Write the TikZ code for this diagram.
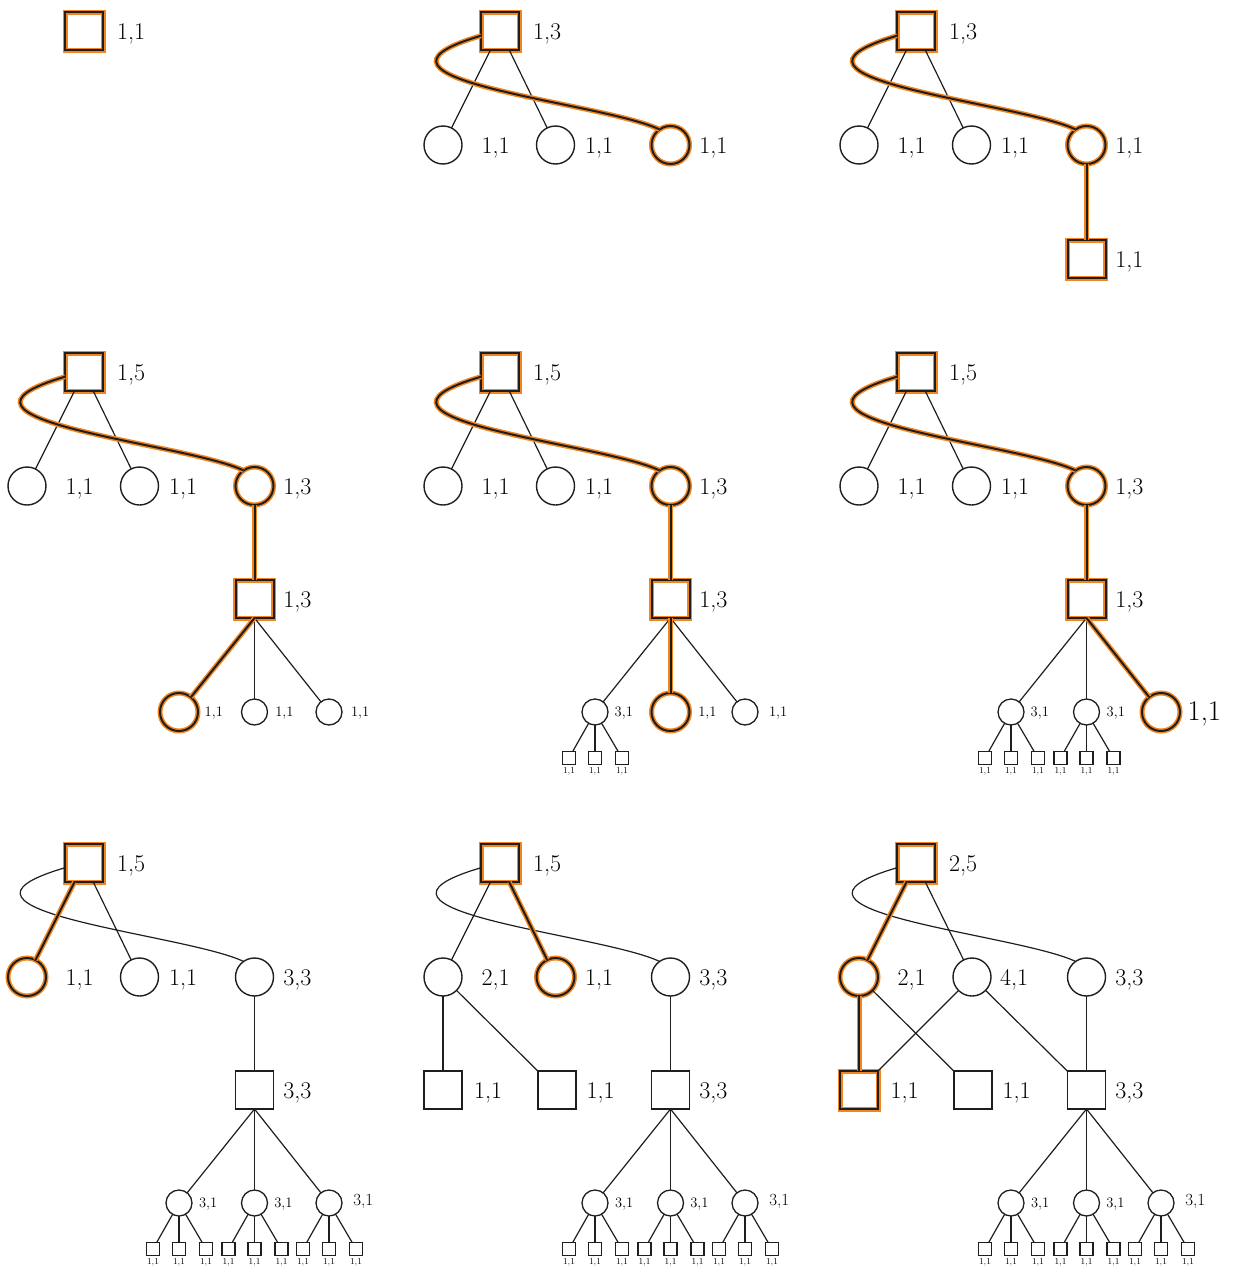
\documentclass[tikz,border=0pt]{standalone}
\usetikzlibrary{calc}
\definecolor{hlorange}{RGB}{242,133,31}
\definecolor{ink}{RGB}{30,30,30}
\tikzset{
  x=1pt, y=-1pt,
  every node/.style={inner sep=0pt, outer sep=0pt},
  edge/.style={draw=ink, line width=1.2pt},
  hledge/.style={draw=ink, line width=2pt, preaction={draw=hlorange, line width=5pt}},
  sq/.style={draw=ink, line width=1.4pt, rectangle, minimum size=38pt},
  circ/.style={draw=ink, line width=1.4pt, circle, minimum size=38pt},
  smallcirc/.style={draw=ink, line width=1.3pt, circle, minimum size=26pt},
  tinysq/.style={draw=ink, line width=1.2pt, rectangle, minimum size=13pt},
  hl/.style={line width=2pt, preaction={draw=hlorange, line width=5pt}},
  lab/.style={anchor=base west, font=\fontsize{24}{28}\selectfont},
  slab/.style={anchor=base west, font=\fontsize{14.5}{17}\selectfont},
  mlab/.style={anchor=base west, font=\fontsize{17}{20}\selectfont},
  blab/.style={anchor=base west, font=\fontsize{28.5}{34}\selectfont},
  tlab/.style={anchor=base, font=\fontsize{9}{10}\selectfont},
}
% three leaf squares hanging below a small circle: #1 = circle name, #2 = x
\newcommand\leafgroup[2]{%
  \foreach \k/\dx in {1/-26,2/0,3/27}{%
    \node[tinysq] (#1t\k) at (#2+\dx,417) {};
    \draw[edge] (#1) -- (#1t\k);
    \node[tlab] (#1l\k) at (#2+\dx,432) {1,1};
  }}
% the long loop from a root square to its third child
\newcommand\loopcurve[3]{\draw[#1] (#2.194) .. controls +(-150,44) and +(-59,-28) .. (#3.125);}
% full lower part: square with three small circles and nine leaves
\newcommand\fullbottom[1]{%
  \foreach \j/\xx in {d/179,e/254.5,f/329}{%
    \node[smallcirc] (#1\j) at (\xx,371) {};
    \draw[edge] (#1s.south) -- (#1\j);
    \leafgroup{#1\j}{\xx}
  }
  \node[slab] (#1dl) at (199,375) {3,1};
  \node[slab] (#1el) at (274.3,375) {3,1};
  \node[mlab] (#1fl) at (353.3,373) {3,1};
}

\begin{document}
\begin{tikzpicture}
\useasboundingbox (0,0) rectangle (1234,1266);

% ---------- row 1 ----------
\begin{scope}
  \node[sq,hl] (p1r) at (84,31) {};
  \node[lab] (p1rl) at (117,39) {1,1};
\end{scope}

\begin{scope}[shift={(416,0)}]
  \node[sq,hl] (p2r) at (84,31) {};
  \node[lab] (p2rl) at (117,39) {1,3};
  \node[circ] (p2a) at (27,145) {};
  \node[circ] (p2b) at (139.5,145) {};
  \node[circ,hl] (p2c) at (254.5,145) {};
  \node[lab] (p2al) at (65.7,153) {1,1};
  \node[lab] (p2bl) at (169,153) {1,1};
  \node[lab] (p2cl) at (283.3,153) {1,1};
  \draw[edge] (p2r) -- (p2a);
  \draw[edge] (p2r) -- (p2b);
  \loopcurve{hledge}{p2r}{p2c}
\end{scope}

\begin{scope}[shift={(832,0)}]
  \node[sq,hl] (p3r) at (84,31) {};
  \node[lab] (p3rl) at (117,39) {1,3};
  \node[circ] (p3a) at (27,145) {};
  \node[circ] (p3b) at (139.5,145) {};
  \node[circ,hl] (p3c) at (254.5,145) {};
  \node[sq,hl] (p3s) at (254.5,259) {};
  \node[lab] (p3al) at (65.7,153) {1,1};
  \node[lab] (p3bl) at (169,153) {1,1};
  \node[lab] (p3cl) at (283.3,153) {1,1};
  \node[lab] (p3sl) at (283.3,267) {1,1};
  \draw[edge] (p3r) -- (p3a);
  \draw[edge] (p3r) -- (p3b);
  \draw[hledge] (p3c) -- (p3s);
  \loopcurve{hledge}{p3r}{p3c}
\end{scope}

% ---------- row 2 ----------
\begin{scope}[shift={(0,341)}]
  \node[sq,hl] (p4r) at (84,31) {};
  \node[lab] (p4rl) at (117,39) {1,5};
  \node[circ] (p4a) at (27,145) {};
  \node[circ] (p4b) at (139.5,145) {};
  \node[circ,hl] (p4c) at (254.5,145) {};
  \node[sq,hl] (p4s) at (254.5,258) {};
  \node[lab] (p4al) at (65.7,153) {1,1};
  \node[lab] (p4bl) at (169,153) {1,1};
  \node[lab] (p4cl) at (283.3,153) {1,3};
  \node[lab] (p4sl) at (283.3,266) {1,3};
  \node[circ,hl] (p4d) at (179,371) {};
  \node[smallcirc] (p4e) at (254.5,371) {};
  \node[smallcirc] (p4f) at (329,371) {};
  \node[slab] (p4dl) at (204.7,375) {1,1};
  \node[slab] (p4el) at (275.3,375) {1,1};
  \node[slab] (p4fl) at (351,375) {1,1};
  \draw[edge] (p4r) -- (p4a);
  \draw[edge] (p4r) -- (p4b);
  \draw[edge] (p4s.south) -- (p4e);
  \draw[edge] (p4s.south) -- (p4f);
  \draw[hledge] (p4c) -- (p4s);
  \draw[hledge] (p4s.south) -- (p4d);
  \loopcurve{hledge}{p4r}{p4c}
\end{scope}

\begin{scope}[shift={(416,341)}]
  \node[sq,hl] (p5r) at (84,31) {};
  \node[lab] (p5rl) at (117,39) {1,5};
  \node[circ] (p5a) at (27,145) {};
  \node[circ] (p5b) at (139.5,145) {};
  \node[circ,hl] (p5c) at (254.5,145) {};
  \node[sq,hl] (p5s) at (254.5,258) {};
  \node[lab] (p5al) at (65.7,153) {1,1};
  \node[lab] (p5bl) at (169,153) {1,1};
  \node[lab] (p5cl) at (283.3,153) {1,3};
  \node[lab] (p5sl) at (283.3,266) {1,3};
  \node[smallcirc] (p5d) at (179,371) {};
  \node[circ,hl] (p5e) at (254.5,371) {};
  \node[smallcirc] (p5f) at (329,371) {};
  \node[slab] (p5dl) at (198.7,375) {3,1};
  \node[slab] (p5el) at (282.3,375) {1,1};
  \node[slab] (p5fl) at (353,375) {1,1};
  \draw[edge] (p5r) -- (p5a);
  \draw[edge] (p5r) -- (p5b);
  \draw[edge] (p5s.south) -- (p5d);
  \draw[edge] (p5s.south) -- (p5f);
  \leafgroup{p5d}{179}
  \draw[hledge] (p5c) -- (p5s);
  \draw[hledge] (p5s.south) -- (p5e);
  \loopcurve{hledge}{p5r}{p5c}
\end{scope}

\begin{scope}[shift={(832,341)}]
  \node[sq,hl] (p6r) at (84,31) {};
  \node[lab] (p6rl) at (117,39) {1,5};
  \node[circ] (p6a) at (27,145) {};
  \node[circ] (p6b) at (139.5,145) {};
  \node[circ,hl] (p6c) at (254.5,145) {};
  \node[sq,hl] (p6s) at (254.5,258) {};
  \node[lab] (p6al) at (65.7,153) {1,1};
  \node[lab] (p6bl) at (169,153) {1,1};
  \node[lab] (p6cl) at (283.3,153) {1,3};
  \node[lab] (p6sl) at (283.3,266) {1,3};
  \node[smallcirc] (p6d) at (179,371) {};
  \node[smallcirc] (p6e) at (254.5,371) {};
  \node[circ,hl] (p6f) at (329,371) {};
  \node[slab] (p6dl) at (198.7,375) {3,1};
  \node[slab] (p6el) at (274.7,375) {3,1};
  \node[blab] (p6fl) at (355.7,379) {1,1};
  \draw[edge] (p6r) -- (p6a);
  \draw[edge] (p6r) -- (p6b);
  \draw[edge] (p6s.south) -- (p6d);
  \draw[edge] (p6s.south) -- (p6e);
  \leafgroup{p6d}{179}
  \leafgroup{p6e}{254.5}
  \draw[hledge] (p6c) -- (p6s);
  \draw[hledge] (p6s.south) -- (p6f);
  \loopcurve{hledge}{p6r}{p6c}
\end{scope}

% ---------- row 3 ----------
\begin{scope}[shift={(0,832)}]
  \node[sq,hl] (p7r) at (84,31) {};
  \node[lab] (p7rl) at (117,39) {1,5};
  \node[circ,hl] (p7a) at (27,145) {};
  \node[circ] (p7b) at (139.5,145) {};
  \node[circ] (p7c) at (254.5,145) {};
  \node[sq] (p7s) at (254.5,258) {};
  \node[lab] (p7al) at (65.7,153) {1,1};
  \node[lab] (p7bl) at (169,153) {1,1};
  \node[lab] (p7cl) at (283.3,153) {3,3};
  \node[lab] (p7sl) at (283.3,266) {3,3};
  \draw[edge] (p7r) -- (p7b);
  \draw[edge] (p7c) -- (p7s);
  \loopcurve{edge}{p7r}{p7c}
  \draw[hledge] (p7r) -- (p7a);
  \fullbottom{p7}
\end{scope}

\begin{scope}[shift={(416,832)}]
  \node[sq,hl] (p8r) at (84,31) {};
  \node[lab] (p8rl) at (117,39) {1,5};
  \node[circ] (p8a) at (27,145) {};
  \node[circ,hl] (p8b) at (139.5,145) {};
  \node[circ] (p8c) at (254.5,145) {};
  \node[sq] (p8u) at (27,258) {};
  \node[sq] (p8v) at (141,258) {};
  \node[sq] (p8s) at (254.5,258) {};
  \node[lab] (p8al) at (65.7,153) {2,1};
  \node[lab] (p8bl) at (169,153) {1,1};
  \node[lab] (p8cl) at (283.3,153) {3,3};
  \node[lab] (p8ul) at (58,266) {1,1};
  \node[lab] (p8vl) at (170.7,266) {1,1};
  \node[lab] (p8sl) at (283.3,266) {3,3};
  \draw[edge] (p8r) -- (p8a);
  \draw[edge] (p8a) -- (p8u);
  \draw[edge] (p8a) -- (p8v);
  \draw[edge] (p8c) -- (p8s);
  \loopcurve{edge}{p8r}{p8c}
  \draw[hledge] (p8r) -- (p8b);
  \fullbottom{p8}
\end{scope}

\begin{scope}[shift={(832,832)}]
  \node[sq,hl] (p9r) at (84,31) {};
  \node[lab] (p9rl) at (117,39) {2,5};
  \node[circ,hl] (p9a) at (27,145) {};
  \node[circ] (p9b) at (140,145) {};
  \node[circ] (p9c) at (254.5,145) {};
  \node[sq,hl] (p9u) at (27,258) {};
  \node[sq] (p9v) at (141,258) {};
  \node[sq] (p9s) at (254.5,258) {};
  \node[lab] (p9al) at (65.7,153) {2,1};
  \node[lab] (p9bl) at (168,153) {4,1};
  \node[lab] (p9cl) at (283.3,153) {3,3};
  \node[lab] (p9ul) at (58.7,266) {1,1};
  \node[lab] (p9vl) at (170.7,266) {1,1};
  \node[lab] (p9sl) at (283.3,266) {3,3};
  \draw[edge] (p9r) -- (p9b);
  \draw[edge] (p9a) -- (p9v);
  \draw[edge] (p9b) -- (p9u);
  \draw[edge] (p9b) -- (p9s);
  \draw[edge] (p9c) -- (p9s);
  \loopcurve{edge}{p9r}{p9c}
  \draw[hledge] (p9r) -- (p9a);
  \draw[hledge] (p9a) -- (p9u);
  \fullbottom{p9}
\end{scope}
\end{tikzpicture}
\end{document}
